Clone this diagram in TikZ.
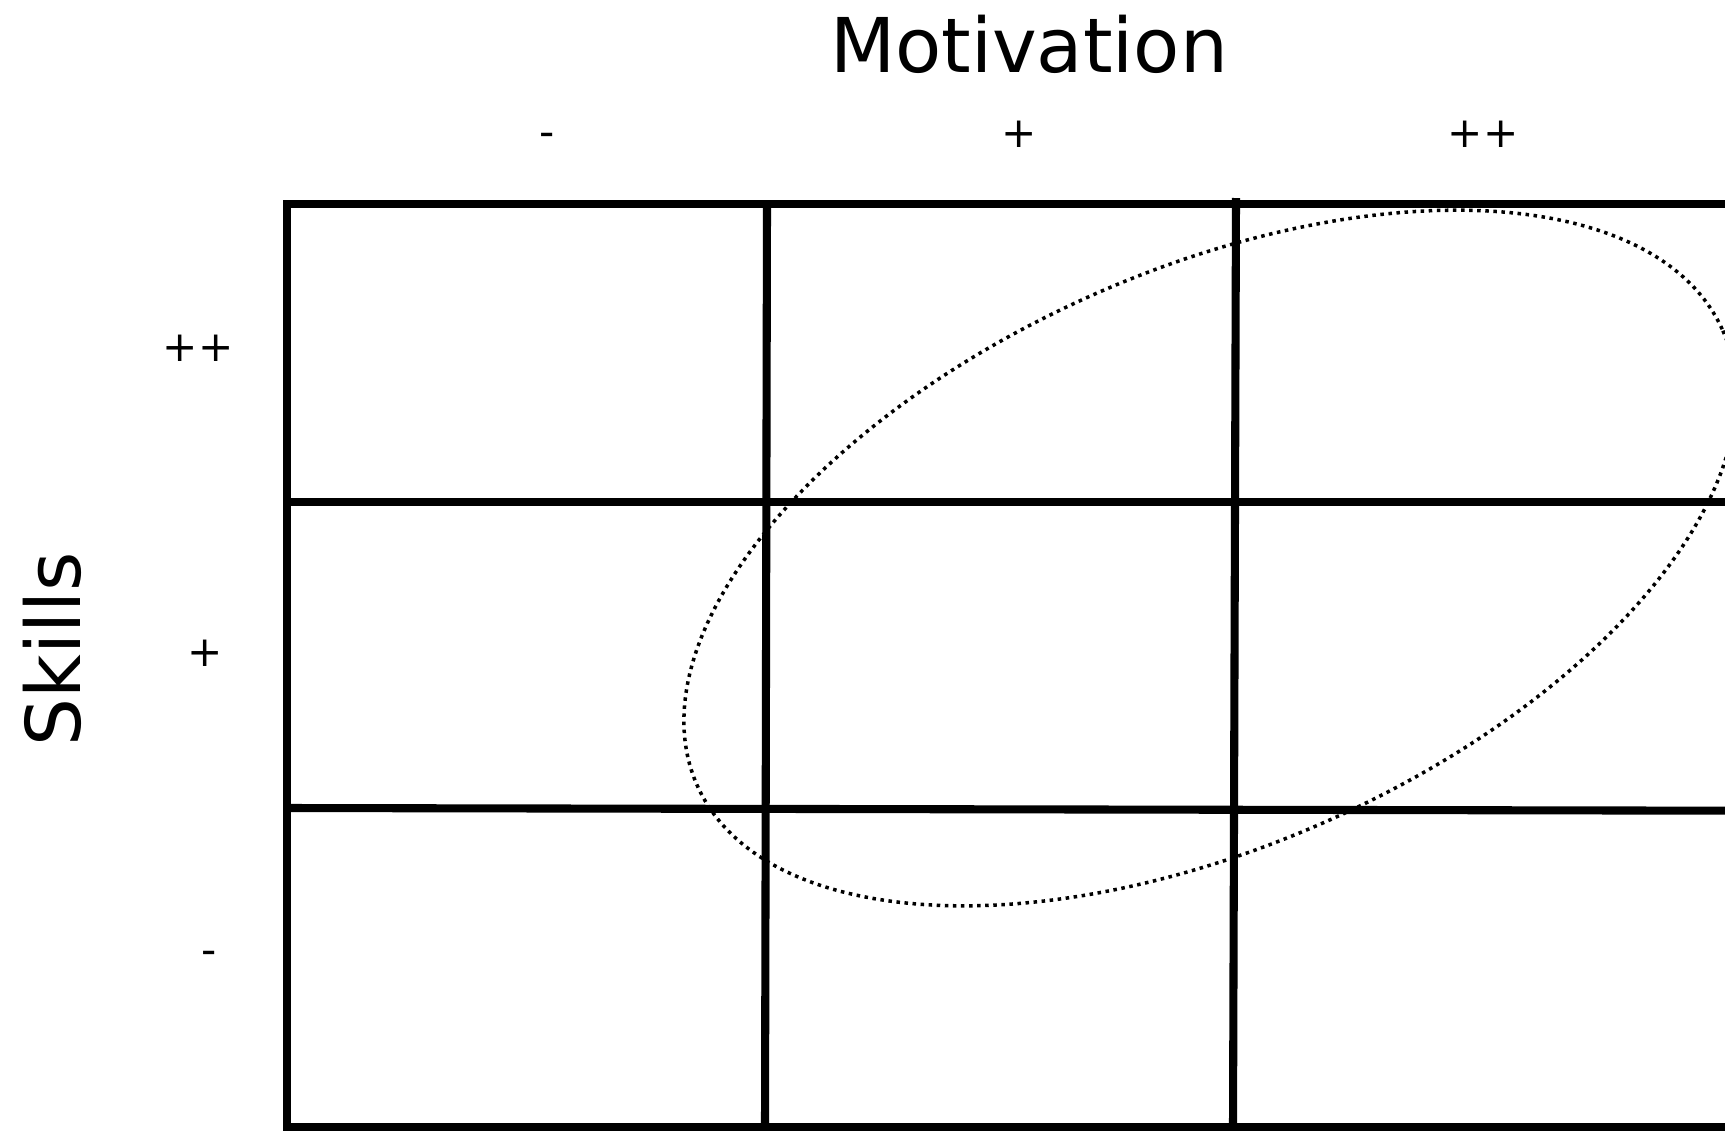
\documentclass[tikz,border=0pt]{standalone}
\usepackage{fontspec}
\setmainfont{DejaVu Sans}
\usepackage{tikz}
\usetikzlibrary{positioning}

\begin{document}
\begin{tikzpicture}[x=0.02cm, y=-0.02cm,
            gridline/.style={line width=4.6pt},
            axislabel/.style={font=\fontsize{43}{50}\selectfont, inner sep=0pt},
            levellabel/.style={font=\fontsize{24}{28}\selectfont, inner sep=0pt}]
            \useasboundingbox (0,0) rectangle (1725,1130);
            \clip (0,0) rectangle (1725,1130);

            % Grid of skill / motivation cells
            \draw[gridline] (1900,204) -- (287,204) -- (287,1127) -- (1900,1127);
            \draw[gridline] (287,502) -- (1900,502);
            \draw[gridline] (287,808) -- (1900,811);
            \draw[gridline] (767,204) -- (765,1127);
            \draw[gridline] (1236,198) -- (1233,1127);

            % Dotted ellipse over the diagonal cells
            \draw[line width=2pt, dash pattern=on 2pt off 2.6pt,
                  shift={(1210,558)}, rotate=23.9] (0,0) ellipse [x radius=561, y radius=288];

            % Axis titles
            \node[axislabel, anchor=base] (motivation) at (1029,72) {Motivation};
            \node[axislabel, rotate=90] (skills) at (52,649) {Skills};

            % Motivation levels
            \node[levellabel] (mlow) at (547,140) {-};
            \node[levellabel] (mmid) at (1019,134) {+};
            \node[levellabel] (mhigh) at (1483,134) {++};

            % Skill levels
            \node[levellabel] (shigh) at (198,348) {++};
            \node[levellabel] (smid) at (205,653) {+};
            \node[levellabel] (slow) at (209,958) {-};
        \end{tikzpicture}
\end{document}
